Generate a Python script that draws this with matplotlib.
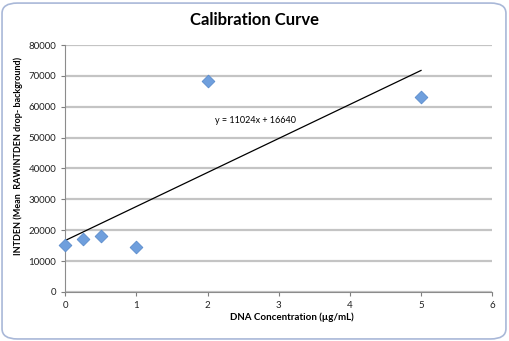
import numpy as np
import matplotlib
matplotlib.use("Agg")
import matplotlib.pyplot as plt
from matplotlib.patches import FancyBboxPatch


# ----------------------------
# Data
# ----------------------------

concentration = [0, 0.25, 0.5, 1, 2, 5]
intden = [15200, 17000, 18000, 14500, 68500, 63000]

slope = 11024
intercept = 16640
fit_range = [0, 5]

x_ticks = [0, 1, 2, 3, 4, 5, 6]
y_ticks = [0, 10000, 20000, 30000, 40000, 50000, 60000, 70000, 80000]


# ----------------------------
# Plot
# ----------------------------

plt.rcParams["font.family"] = ["Lato", "DejaVu Sans"]

fig = plt.figure(figsize=(5.09, 3.41), dpi=100)
fig.patch.set_facecolor("white")

frame = FancyBboxPatch((0.004, 0.006), 0.99, 0.985,
                       boxstyle="round,pad=0,rounding_size=0.03",
                       transform=fig.transFigure, facecolor="white",
                       edgecolor="#a9b8d8", linewidth=1.2, zorder=-5)
fig.patches.append(frame)

ax = fig.add_axes([0.128, 0.144, 0.839, 0.724])
ax.set_facecolor("none")
ax.set_zorder(2)

ax.set_xlim(0, 6)
ax.set_ylim(0, 80000)
ax.set_xticks(x_ticks)
ax.set_yticks(y_ticks)
ax.tick_params(labelsize=7, colors="#7f7f7f", labelcolor="#222222", length=3, width=0.8)

ax.grid(axis="y", color="#c4c4c4", linewidth=1.6)
ax.set_axisbelow(True)
for side in ["top", "right"]:
    ax.spines[side].set_visible(False)
for side in ["left", "bottom"]:
    ax.spines[side].set_color("#8c8c8c")
    ax.spines[side].set_linewidth(0.8)

fit_x = np.array(fit_range)
ax.plot(fit_x, slope * fit_x + intercept, color="black", linewidth=0.9, zorder=3)

ax.scatter(concentration, intden, marker="D", s=42, facecolor="#6f9fdd",
           edgecolor="#5b8ccc", linewidth=0.6, zorder=4, clip_on=False)

ax.text(2.67, 55600, "y = 11024x + 16640", fontsize=6.5, ha="center", va="center")

fig.text(0.5, 0.94, "Calibration Curve", fontsize=12, fontweight="bold",
         ha="center", va="center")
ax.set_xlabel("DNA Concentration (µg/mL)", fontsize=7, fontweight="bold", labelpad=0)
ax.xaxis.set_label_coords(0.53, -0.082)
ax.set_ylabel("INTDEN (Mean  RAWINTDEN drop- background)", fontsize=6.5,
              fontweight="bold", labelpad=4)
ax.yaxis.set_label_coords(-0.098, 0.55)

fig.savefig("out.png", dpi=100)
